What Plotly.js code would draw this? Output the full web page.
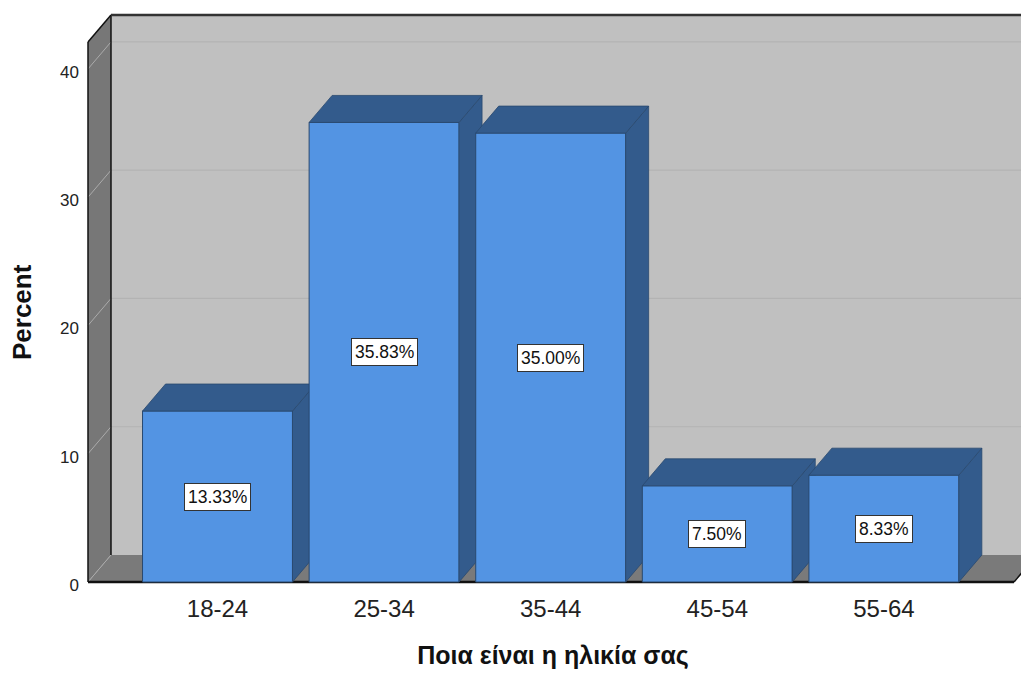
<!DOCTYPE html>
<html>
<head>
<meta charset="utf-8">
<script src="https://cdn.plot.ly/plotly-3.0.1.min.js"></script>
<style>
  html, body { margin: 0; padding: 0; background: #ffffff; }
  #chart { width: 1021px; height: 673px; }
</style>
</head>
<body>
<div id="chart"></div>
<script>
// Age groups and their share of respondents (percent)
const categories = ['18-24', '25-34', '35-44', '45-54', '55-64'];
const percents = [13.33, 35.83, 35.00, 7.50, 8.33];
const yTicks = [0, 10, 20, 30, 40];

// Axis ranges and the fake-3D box geometry, all in data units
const X_RANGE = [-0.7953, 4.823];
const Y_RANGE = [-0.234, 44.44];
const BOX_LEFT = -0.7773;   // front-left edge of the box
const BOX_RIGHT = 4.781;    // front-right edge of the floor
const BOX_TOP = 42.1;       // top of the value scale at the front
const DX = 0.138;           // depth offset (x)
const DY = 2.105;           // depth offset (y)
const BAR_W = 0.9;

const FRONT = '#5394e3';
const SHADE = '#335b8c';
const EDGE = '#29496f';

// Walls, floor, grid and outlines of the box
const shapes = [];
const farRight = X_RANGE[1] + 1;
shapes.push({type: 'rect', layer: 'below', xref: 'x', yref: 'y',
  x0: BOX_LEFT + DX, x1: farRight, y0: DY, y1: BOX_TOP + DY,
  fillcolor: '#c0c0c0', line: {width: 0}});
shapes.push({type: 'path', layer: 'below', xref: 'x', yref: 'y',
  path: `M ${BOX_LEFT},0 L ${BOX_LEFT},${BOX_TOP} L ${BOX_LEFT + DX},${BOX_TOP + DY} L ${BOX_LEFT + DX},${DY} Z`,
  fillcolor: '#777777', line: {width: 0}});
shapes.push({type: 'path', layer: 'below', xref: 'x', yref: 'y',
  path: `M ${BOX_LEFT},0 L ${BOX_RIGHT},0 L ${BOX_RIGHT + DX},${DY} L ${BOX_LEFT + DX},${DY} Z`,
  fillcolor: '#7a7a7a', line: {width: 0}});
yTicks.forEach(v => {
  if (v > 0) {
    shapes.push({type: 'line', layer: 'below', xref: 'x', yref: 'y',
      x0: BOX_LEFT + DX, x1: farRight, y0: v + DY, y1: v + DY,
      line: {color: '#b3b3b3', width: 1.2}});
  }
  shapes.push({type: 'line', layer: 'below', xref: 'x', yref: 'y',
    x0: BOX_LEFT, x1: BOX_LEFT + DX, y0: v, y1: v + DY,
    line: {color: '#ababab', width: 1}});
});
const outline = (x0, y0, x1, y1, w, c) => shapes.push({type: 'line', layer: 'below',
  xref: 'x', yref: 'y', x0, y0, x1, y1, line: {color: c || '#111111', width: w}});
outline(BOX_LEFT, 0, BOX_LEFT, BOX_TOP, 1.5);
outline(BOX_LEFT, BOX_TOP, BOX_LEFT + DX, BOX_TOP + DY, 1.5);
outline(BOX_LEFT + DX, DY, BOX_LEFT + DX, BOX_TOP + DY, 1.5);
outline(BOX_LEFT + DX, BOX_TOP + DY, farRight, BOX_TOP + DY, 2.5, '#333333');
outline(BOX_LEFT, 0, BOX_RIGHT, 0, 2.5);
outline(BOX_RIGHT, 0, BOX_RIGHT + DX, DY, 1.5);

// One overlaid subplot per bar so that each bar sits in front of the one to its left
const traces = [];
const layout = {
  width: 1021, height: 673,
  margin: {l: 85, r: 0, t: 12, b: 88},
  paper_bgcolor: '#ffffff', plot_bgcolor: '#ffffff',
  showlegend: false,
  font: {family: 'Arial, "Liberation Sans", sans-serif', color: '#222222'},
  xaxis: {
    range: X_RANGE, tickvals: categories.map((c, i) => i), ticktext: categories,
    showgrid: false, zeroline: false, showline: false, ticks: '',
    tickfont: {size: 24, color: '#222222'}, ticklabelstandoff: 7,
    title: {text: 'Ποια είναι η ηλικία σας', standoff: 25,
      font: {size: 25, weight: 'bold', color: '#111111'}},
    fixedrange: true
  },
  yaxis: {
    range: Y_RANGE, tickvals: yTicks,
    showgrid: false, zeroline: false, showline: false, ticks: '',
    tickfont: {size: 17, color: '#222222'}, ticklabelstandoff: 5, ticklabelshift: 3,
    fixedrange: true
  },
  shapes: shapes,
  annotations: []
};

percents.forEach((v, k) => {
  const n = k + 1;
  const xa = n === 1 ? 'x' : 'x' + n;
  const ya = n === 1 ? 'y' : 'y' + n;
  if (n > 1) {
    layout['xaxis' + n] = {range: X_RANGE, overlaying: 'x', visible: false, fixedrange: true};
    layout['yaxis' + n] = {range: Y_RANGE, overlaying: 'y', visible: false, fixedrange: true};
  }
  const l = k - BAR_W / 2, r = k + BAR_W / 2;
  // front face
  traces.push({type: 'bar', x: [k], y: [v], width: BAR_W, xaxis: xa, yaxis: ya,
    marker: {color: FRONT, line: {color: EDGE, width: 1}}, hoverinfo: 'skip'});
  // right side face
  traces.push({type: 'scatter', mode: 'lines', fill: 'toself', xaxis: xa, yaxis: ya,
    x: [r, r + DX, r + DX, r, r], y: [0, DY, v + DY, v, 0],
    fillcolor: SHADE, line: {color: EDGE, width: 0.8}, hoverinfo: 'skip'});
  // top face
  traces.push({type: 'scatter', mode: 'lines', fill: 'toself', xaxis: xa, yaxis: ya,
    x: [l, r, r + DX, l + DX, l], y: [v, v, v + DY, v + DY, v],
    fillcolor: SHADE, line: {color: EDGE, width: 0.8}, hoverinfo: 'skip'});
  // value label
  layout.annotations.push({xref: 'x', yref: 'y', x: k, y: v / 2, showarrow: false,
    text: v.toFixed(2) + '%', font: {size: 17.5, color: '#111111'},
    bgcolor: '#ffffff', bordercolor: '#333333', borderwidth: 1, borderpad: 3});
});

// Value axis title, centred on the front scale
layout.annotations.push({xref: 'paper', yref: 'y', x: 0, y: BOX_TOP / 2, xshift: -63,
  xanchor: 'center', yanchor: 'middle', textangle: -90, showarrow: false,
  text: 'Percent', font: {size: 26, weight: 'bold', color: '#111111'}});

Plotly.newPlot('chart', traces, layout, {displayModeBar: false, staticPlot: true});
</script>
</body>
</html>
